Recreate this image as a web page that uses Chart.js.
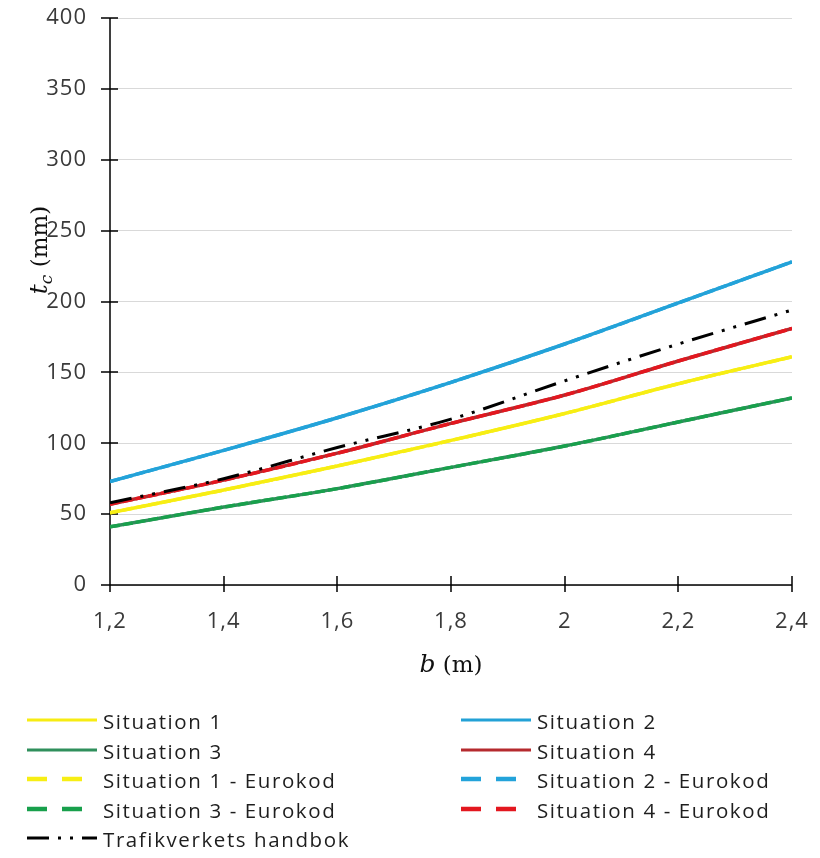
<!DOCTYPE html>
<html>
<head>
<meta charset="utf-8">
<script src="https://cdn.jsdelivr.net/npm/chart.js@4.4.1/dist/chart.umd.min.js"></script>
<style>
html,body{margin:0;padding:0;background:#fff;}
#wrap{position:relative;width:820px;height:858px;overflow:hidden;}
#c{position:absolute;left:0;top:0;}
.item{position:absolute;height:30px;line-height:30px;white-space:nowrap;}
.item svg{position:absolute;left:0;top:0;}
.item span{position:absolute;font-family:"Open Sans",sans-serif;font-size:20.5px;letter-spacing:1.6px;color:#1e1e1e;}
</style>
</head>
<body>
<div id="wrap">
<canvas id="c" width="820" height="858"></canvas>
<div id="legend"></div>
</div>
<script>
// ---- data ----
const bValues = [1.2, 1.4, 1.6, 1.8, 2.0, 2.2, 2.4];
const xTickValues = [1.2, 1.4, 1.6, 1.8, 2.0, 2.2, 2.4];
const yTickMin = 0, yTickMax = 400, yTickStep = 50;

const situation1 = [51, 67, 84, 102, 121, 142, 161];
const situation2 = [73, 95, 118, 143, 170, 199, 228];
const situation3 = [41, 55, 68, 83, 98, 115, 132];
const situation4 = [57, 74, 93, 114, 134, 158, 181];
const situation1Eurokod = [51, 67, 84, 102, 121, 142, 161];
const situation2Eurokod = [73, 95, 118, 143, 170, 199, 228];
const situation3Eurokod = [41, 55, 68, 83, 98, 115, 132];
const situation4Eurokod = [57, 74, 93, 114, 134, 158, 181];
const trafikverket = [58, 75, 97, 117, 144, 170, 194];

const seriesLabels = [
  "Situation 1", "Situation 2", "Situation 3", "Situation 4",
  "Situation 1 - Eurokod", "Situation 2 - Eurokod", "Situation 3 - Eurokod", "Situation 4 - Eurokod",
  "Trafikverkets handbok"
];
const seriesValues = [
  situation1, situation2, situation3, situation4,
  situation1Eurokod, situation2Eurokod, situation3Eurokod, situation4Eurokod,
  trafikverket
];

// ---- styles ----
const styles = [
  {color:"#f7ec12", width:3.5, dash:[], order:2, kind:"solid"},
  {color:"#23a1d6", width:3.5, dash:[], order:2, kind:"solid"},
  {color:"#2f8f5c", width:3.5, dash:[], order:2, kind:"solid"},
  {color:"#b52a2e", width:3.5, dash:[], order:2, kind:"solid"},
  {color:"#f7ee14", width:3.5, dash:[10,3], order:1, kind:"dash"},
  {color:"#23a3da", width:3.5, dash:[10,3], order:1, kind:"dash"},
  {color:"#18a04c", width:3.5, dash:[10,3], order:1, kind:"dash"},
  {color:"#e3171f", width:3.5, dash:[10,3], order:1, kind:"dash"},
  {color:"#000000", width:3, dash:[22,9,3,9,3,9], order:0, kind:"dashdot"}
];

const datasets = seriesLabels.map((lab, i) => ({
  label: lab,
  data: bValues.map((b, k) => ({x: b, y: seriesValues[i][k]})),
  borderColor: styles[i].color,
  backgroundColor: styles[i].color,
  borderWidth: styles[i].width,
  borderDash: styles[i].dash,
  borderCapStyle: "butt",
  pointRadius: 0,
  cubicInterpolationMode: "monotone",
  fill: false,
  order: styles[i].order
}));

const fmtB = v => String(Number(Number(v).toFixed(1))).replace(".", ",");

const axisPlugin = {
  id: "axisPlugin",
  beforeDraw(chart) {
    chart.ctx.letterSpacing = "1px";
  },
  beforeDatasetsDraw(chart) {
    const {ctx, chartArea: a, scales: {x, y}} = chart;
    ctx.save();
    ctx.strokeStyle = "#000";
    ctx.lineWidth = 1.5;
    ctx.beginPath();
    ctx.moveTo(a.left, a.top); ctx.lineTo(a.left, a.bottom);
    ctx.moveTo(a.left, a.bottom); ctx.lineTo(a.right, a.bottom);
    y.ticks.forEach(t => {
      const py = Math.round(y.getPixelForValue(t.value));
      ctx.moveTo(a.left - 9, py); ctx.lineTo(a.left + 8, py);
    });
    x.ticks.forEach(t => {
      const px = Math.round(x.getPixelForValue(t.value));
      ctx.moveTo(px, a.bottom - 9); ctx.lineTo(px, a.bottom + 7);
    });
    ctx.stroke();
    ctx.restore();
  },
  afterDraw(chart) {
    const {ctx, chartArea: a} = chart;
    ctx.save();
    ctx.letterSpacing = "0px";
    ctx.fillStyle = "#111";
    ctx.textBaseline = "alphabetic";
    // x title: b (m)
    const fI = 'italic 25px "DejaVu Serif"';
    const fN = '23px "DejaVu Serif"';
    ctx.font = fI; const wb = ctx.measureText("b").width;
    ctx.font = fN; const wm = ctx.measureText(" (m)").width;
    let sx = (a.left + a.right) / 2 - (wb + wm) / 2;
    const by = 672;
    ctx.font = fI; ctx.fillText("b", sx, by);
    ctx.font = fN; ctx.fillText(" (m)", sx + wb, by);
    // y title: t_c (mm), rotated
    ctx.translate(47, 250);
    ctx.rotate(-Math.PI / 2);
    const fS = 'italic 17px "DejaVu Serif"';
    ctx.font = fI; const wt = ctx.measureText("t").width;
    ctx.font = fS; const wc = ctx.measureText("c").width;
    ctx.font = fN; const wmm = ctx.measureText(" (mm)").width;
    let tx = -(wt + wc + wmm) / 2;
    ctx.font = fI; ctx.fillText("t", tx, 0);
    ctx.font = fS; ctx.fillText("c", tx + wt, 5);
    ctx.font = fN; ctx.fillText(" (mm)", tx + wt + wc, 0);
    ctx.restore();
    ctx.letterSpacing = "0px";
  }
};

const chart = new Chart(document.getElementById("c"), {
  type: "line",
  data: {datasets},
  plugins: [axisPlugin],
  options: {
    responsive: false,
    animation: false,
    devicePixelRatio: 1,
    layout: {padding: {left: 0, top: 18, right: 28, bottom: 213}},
    plugins: {legend: {display: false}, tooltip: {enabled: false}},
    scales: {
      x: {
        type: "linear",
        min: xTickValues[0],
        max: xTickValues[xTickValues.length - 1],
        afterBuildTicks: s => { s.ticks = xTickValues.map(v => ({value: v})); },
        afterFit: s => { s.height = 60; s.paddingLeft = 0; s.paddingRight = 0; },
        grid: {display: false, drawTicks: false},
        border: {display: false},
        ticks: {
          callback: v => fmtB(v),
          padding: 24,
          maxRotation: 0,
          autoSkip: false,
          color: "#3a3a3a",
          font: {family: "Open Sans", size: 22}
        }
      },
      y: {
        type: "linear",
        min: yTickMin,
        max: yTickMax,
        afterFit: s => { s.width = 110; s.paddingTop = 0; s.paddingBottom = 0; },
        grid: {color: "#d9d9d9", lineWidth: 1, drawTicks: false},
        border: {display: false},
        ticks: {
          stepSize: yTickStep,
          padding: 23,
          color: "#3a3a3a",
          font: {family: "Open Sans", size: 22}
        }
      }
    }
  }
});

// ---- HTML legend built from the datasets ----
const legendEl = document.getElementById("legend");
const rowY = [720, 749.5, 779, 808.5, 838];
const colX = [0, 434];
chart.data.datasets.forEach((ds, i) => {
  const st = styles[i];
  const row = Math.floor(i / 2), col = i % 2;
  const item = document.createElement("div");
  item.className = "item";
  item.style.left = colX[col] + "px";
  item.style.top = (rowY[row] - 15) + "px";
  item.style.width = "380px";
  let line;
  if (st.kind === "solid") {
    line = `<line x1="27" y1="15" x2="97" y2="15" stroke="${ds.borderColor}" stroke-width="3"/>`;
  } else if (st.kind === "dash") {
    line = `<line x1="27" y1="15" x2="82" y2="15" stroke="${ds.borderColor}" stroke-width="4.5" stroke-dasharray="20 15"/>`;
  } else {
    line = `<line x1="27" y1="15" x2="97" y2="15" stroke="${ds.borderColor}" stroke-width="3" stroke-dasharray="22 9 3 9 3 9"/>`;
  }
  item.innerHTML = `<svg width="110" height="30">${line}</svg><span style="left:103px;top:1px">${ds.label}</span>`;
  legendEl.appendChild(item);
});
</script>
</body>
</html>
